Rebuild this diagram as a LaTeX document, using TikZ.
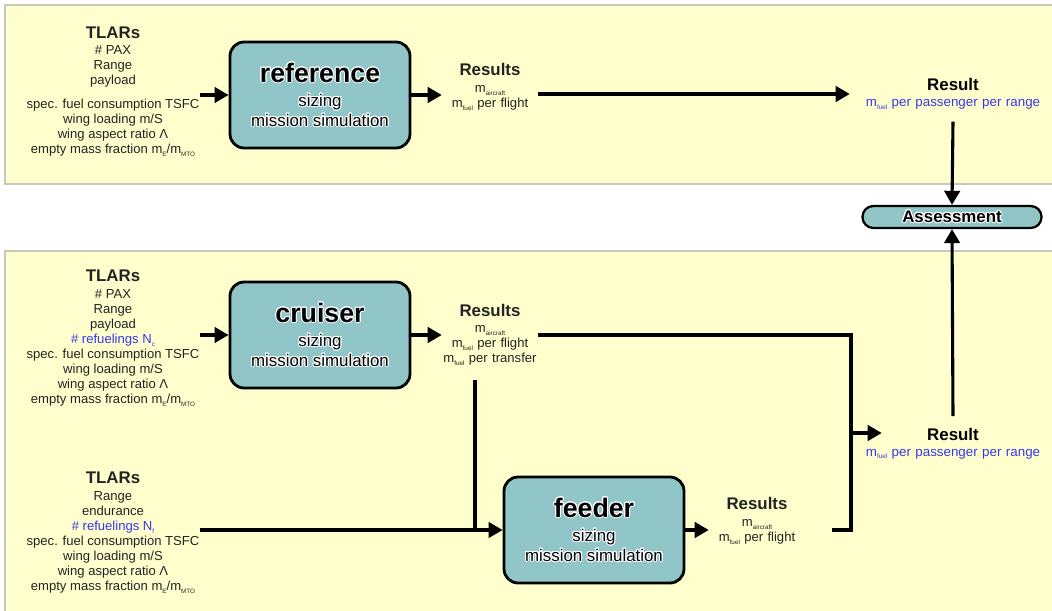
\documentclass[tikz,border=0pt]{standalone}
\usepackage{fontspec}
\setmainfont{Liberation Sans}
\usepackage{xcolor}
\usepackage{contour}
\contourlength{0.7pt}
\usetikzlibrary{arrows.meta, positioning, calc}

\definecolor{panelyellow}{RGB}{255,255,206}
\definecolor{panelline}{RGB}{200,200,190}
\definecolor{simteal}{RGB}{145,198,200}
\definecolor{resblue}{RGB}{55,55,235}
\definecolor{textgray}{RGB}{35,35,35}

\newcommand{\subtxt}[1]{\raisebox{-0.4ex}{\fontsize{4.5}{5}\selectfont #1}}
\newcommand{\halo}[1]{\contour{white}{#1}}
\newcommand{\headfont}{\bfseries\fontsize{12}{14}\selectfont}
\newcommand{\simfont}{\bfseries\fontsize{19}{20}\selectfont}

\begin{document}
\begin{tikzpicture}[
    panel/.style={fill=panelyellow},
    panelborder/.style={draw=panelline, line width=0.8pt},
    simbox/.style={rectangle, draw=black, fill=simteal, line width=2pt, rounded corners=10pt, minimum width=4.5cm, minimum height=2.65cm, align=center, font=\fontsize{12}{14.2}\selectfont},
    inputs/.style={align=center, font=\fontsize{9.3}{10.7}\selectfont, text=textgray, inner sep=0pt},
    results/.style={align=center, text width=2.4cm, font=\fontsize{9.3}{10.7}\selectfont, text=textgray, inner sep=0pt},
    result/.style={align=center, text width=4.6cm, inner xsep=0.275cm, inner ysep=0.3cm, font=\fontsize{9.5}{11}\selectfont},
    assessbox/.style={rectangle, draw=black, fill=simteal, line width=1.6pt, rounded corners=0.27cm, minimum width=4.475cm, minimum height=0.55cm, inner sep=0pt, font=\headfont},
    flow/.style={-{Triangle[length=10pt,width=11pt]}, line width=2.2pt},
    link/.style={line width=2.2pt}
]
\useasboundingbox (0,0) rectangle (26.3,-15.275);

% Panels
\fill[panel] (0.125,-0.125) rectangle (26.3,-4.6);
\draw[panelborder] (26.3,-0.125) -| (0.125,-4.6) -- (26.3,-4.6);
\fill[panel] (0.125,-6.275) rectangle (26.3,-15.275);
\draw[panelborder] (26.3,-6.275) -| (0.125,-15.275);

% Reference aircraft
\node[inputs] (tlarsRef) at (2.825,-2.29) {{\headfont TLARs}\\[1pt] \# PAX\\ Range\\ payload\\[6pt] spec. fuel consumption TSFC\\ wing loading m/S\\ wing aspect ratio Λ\\ empty mass fraction m\subtxt{E}/m\subtxt{MTO}};
\node[simbox] (refBox) at (8.0,-2.375) {{\simfont\halo{reference}}\\[3pt] \halo{sizing}\\ \halo{mission simulation}};
\node[results] (resRef) at (12.25,-2.175) {{\headfont Results}\\[1pt] m\subtxt{aircraft}\\ m\subtxt{fuel} per flight};
\node[result] (resultTop) at (23.825,-2.35) {{\headfont Result}\\ {\color{resblue}m\subtxt{fuel} per passenger per range}};

% Assessment
\node[assessbox] (assess) at (23.8,-5.425) {\halo{Assessment}};

% Cruiser and feeder
\node[inputs] (tlarsCru) at (2.825,-8.46) {{\headfont TLARs}\\[1pt] \# PAX\\ Range\\ payload\\ {\color{resblue}\# refuelings N\subtxt{c}}\\ spec. fuel consumption TSFC\\ wing loading m/S\\ wing aspect ratio Λ\\ empty mass fraction m\subtxt{E}/m\subtxt{MTO}};
\node[simbox] (cruBox) at (8.0,-8.375) {{\simfont\halo{cruiser}}\\[3pt] \halo{sizing}\\ \halo{mission simulation}};
\node[results] (resCru) at (12.25,-8.37) {{\headfont Results}\\[1pt] m\subtxt{aircraft}\\ m\subtxt{fuel} per flight\\ m\subtxt{fuel} per transfer};
\node[inputs] (tlarsFeed) at (2.825,-13.32) {{\headfont TLARs}\\[1pt] Range\\ endurance\\ {\color{resblue}\# refuelings N\subtxt{f}}\\ spec. fuel consumption TSFC\\ wing loading m/S\\ wing aspect ratio Λ\\ empty mass fraction m\subtxt{E}/m\subtxt{MTO}};
\node[simbox] (feedBox) at (14.85,-13.25) {{\simfont\halo{feeder}}\\[3pt] \halo{sizing}\\ \halo{mission simulation}};
\node[results] (resFeed) at (18.925,-13.025) {{\headfont Results}\\[1pt] m\subtxt{aircraft}\\ m\subtxt{fuel} per flight};
\node[result] (resultBot) at (23.825,-11.09) {{\headfont Result}\\ {\color{resblue}m\subtxt{fuel} per passenger per range}};

\coordinate (cruDrop) at (11.875,-9.5);
\coordinate (busLow) at (21.275,-13.25);
\coordinate (busMid) at (21.275,-10.825);
\coordinate (feedEnd) at (20.8,-13.25);

% Connections
\draw[flow] (tlarsRef.east |- refBox.west) -- (refBox.west);
\draw[flow] (refBox.east) -- (resRef.west |- refBox.east);
\draw[flow] (resRef.east |- resultTop.west) -- (resultTop.west);
\draw[flow] (resultTop.south) -- (assess.north);

\draw[flow] (tlarsCru.east |- cruBox.west) -- (cruBox.west);
\draw[flow] (cruBox.east) -- (resCru.west |- cruBox.east);
\draw[link] (resCru.east |- cruBox.east) -| (busLow) -- (feedEnd);
\draw[link] (cruDrop) -- (cruDrop |- feedBox.west);
\draw[flow] (tlarsFeed.east |- feedBox.west) -- (feedBox.west);
\draw[flow] (feedBox.east) -- (resFeed.west |- feedBox.east);
\draw[flow] (busMid) -- ([xshift=0.8cm]resultBot.west |- busMid);
\draw[flow] (resultBot.north) -- (assess.south);

\end{tikzpicture}
\end{document}
